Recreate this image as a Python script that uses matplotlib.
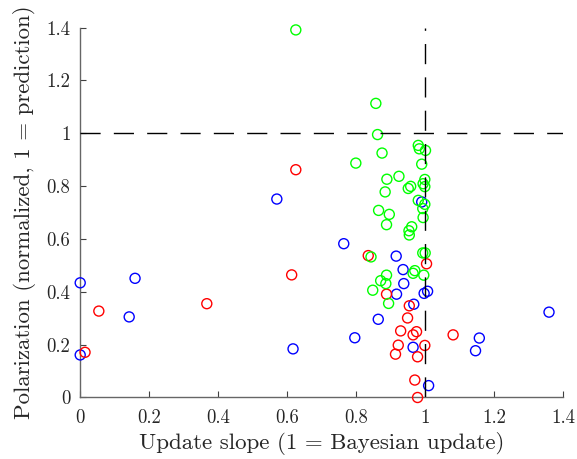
import matplotlib
matplotlib.use('Agg')
import matplotlib.pyplot as plt

plt.rcParams['font.family'] = 'serif'
plt.rcParams['font.serif'] = ['cmr10']
plt.rcParams['mathtext.fontset'] = 'cm'
plt.rcParams['axes.formatter.use_mathtext'] = True

# update slope / normalized polarization, per group
green_x = [0.625, 0.857, 0.862, 0.980, 0.983, 1.001, 0.875, 0.799, 0.990, 0.924,
           0.889, 0.999, 0.994, 0.958, 0.951, 0.999, 0.884, 0.980, 0.999, 0.993,
           0.865, 0.896, 0.994, 0.888, 0.961, 0.953, 0.954, 0.843, 0.993, 1.000,
           0.970, 0.965, 0.888, 0.996, 0.871, 0.886, 0.848, 0.894]
green_y = [1.391, 1.113, 0.995, 0.954, 0.941, 0.935, 0.925, 0.887, 0.883, 0.837,
           0.826, 0.825, 0.809, 0.799, 0.791, 0.798, 0.778, 0.746, 0.731, 0.715,
           0.708, 0.693, 0.681, 0.654, 0.646, 0.631, 0.615, 0.532, 0.547, 0.547,
           0.480, 0.470, 0.463, 0.463, 0.442, 0.431, 0.406, 0.356]

red_x = [0.625, 0.613, 0.367, 0.054, 0.014, 0.835, 1.004, 0.888, 0.954, 0.949,
         0.929, 0.975, 0.965, 1.081, 0.922, 0.999, 0.914, 0.978, 0.970, 0.978]
red_y = [0.862, 0.464, 0.355, 0.327, 0.171, 0.537, 0.506, 0.391, 0.347, 0.301,
         0.252, 0.249, 0.237, 0.237, 0.198, 0.197, 0.164, 0.154, 0.066, 0.000]

blue_x = [0.000, 0.159, 0.142, 0.000, 0.570, 0.764, 0.617, 0.796, 0.990, 0.916,
          0.936, 0.938, 0.917, 0.997, 1.007, 0.967, 0.864, 0.965, 1.359, 1.157,
          1.146, 1.010]
blue_y = [0.434, 0.451, 0.305, 0.161, 0.751, 0.582, 0.184, 0.226, 0.740, 0.535,
          0.484, 0.431, 0.391, 0.394, 0.402, 0.353, 0.296, 0.190, 0.323, 0.225,
          0.177, 0.045]

ticks = [0, 0.2, 0.4, 0.6, 0.8, 1, 1.2, 1.4]
tick_labels = ['0', '0.2', '0.4', '0.6', '0.8', '1', '1.2', '1.4']

fig = plt.figure(figsize=(5.77, 4.59), dpi=100)
ax = fig.add_axes([0.139, 0.134, 0.837, 0.806])

mk = dict(marker='o', s=52, facecolors='none', linewidths=1.0, clip_on=False, zorder=3)
ax.scatter(blue_x, blue_y, edgecolors=(0, 0, 1), **mk)
ax.scatter(red_x, red_y, edgecolors=(1, 0, 0), **mk)
ax.scatter(green_x, green_y, edgecolors=(0, 1, 0), **mk)

dash = (0, (14.5, 9.5))
ax.plot([0, 1.4], [1, 1], color='k', lw=1, linestyle=dash, zorder=4)
ax.plot([1, 1], [0, 1.4], color='k', lw=1, linestyle=dash, zorder=4)

ax.set_xlim(0, 1.4)
ax.set_ylim(0, 1.4)
ax.set_xticks(ticks)
ax.set_xticklabels(tick_labels)
ax.set_yticks(ticks)
ax.set_yticklabels(tick_labels)

for side in ['top', 'right']:
    ax.spines[side].set_visible(False)
for side in ['left', 'bottom']:
    ax.spines[side].set_color('0.4')
    ax.spines[side].set_linewidth(1.0)
ax.tick_params(direction='in', length=4, width=0.8, color='0.25',
               labelcolor='0.15', labelsize=13.5)
ax.tick_params(axis='x', pad=8)
ax.tick_params(axis='y', pad=7)

ax.set_xlabel('Update slope (1 = Bayesian update)', fontsize=16.5, color='0.15')
ax.set_ylabel('Polarization (normalized, 1 = prediction)', fontsize=16.5, color='0.15')
ax.xaxis.set_label_coords(0.5, -0.094)
ax.yaxis.set_label_coords(-0.092, 0.5)

fig.savefig('out.png', dpi=100)
